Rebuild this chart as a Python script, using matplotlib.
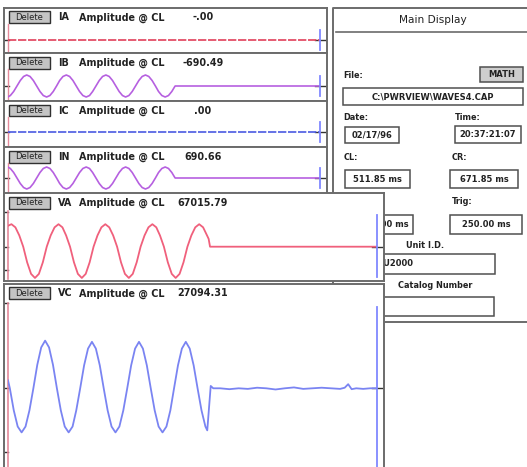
import numpy as np
import matplotlib
matplotlib.use("Agg")
import matplotlib.pyplot as plt
from matplotlib.patches import Rectangle

W, H = 527, 467
plt.rcParams.update({"font.family": "DejaVu Sans", "font.size": 6.9})

EDGE = "#6b6b6b"
CL_PINK = "#e58a9b"
CUR_BLUE = "#8088ff"

# cursor times (ms)
T_CL, T_CR = 511.85, 671.85

# header: channel name, amplitude at CL
CHANNELS = ["IA", "IB", "IC", "IN", "VA", "VC"]
AMP_AT_CL = ["-.00", "-690.49", ".00", "690.66", "67015.79", "27094.31"]

# waveforms: time after CL (ms), currents in A, voltages in kV
ia_t = [0.0, 160.0]
ia_v = [0.0, 0.0]
ic_t = [0.0, 160.0]
ic_v = [0.0, 0.0]

ib_t = [0.0, 1.2, 2.9, 4.6, 6.3, 8.0, 9.6, 11.3, 13.0, 14.7, 16.4, 18.1,
        19.8, 21.5, 23.2, 24.9, 26.5, 28.2, 29.9, 31.6, 33.3, 35.0, 36.7, 38.4,
        40.1, 41.8, 43.4, 45.1, 46.8, 48.5, 50.2, 51.9, 53.6, 55.3, 57.0, 58.7,
        60.3, 62.0, 63.7, 65.4, 67.1, 68.8, 70.5, 72.2, 73.9, 75.6, 77.2, 78.9,
        80.6, 82.3, 84.0, 85.7, 110.0, 160.0]
ib_v = [-690, -606, -350, 0, 350, 606, 700, 606, 350, 0, -350, -606,
        -700, -606, -350, 0, 350, 606, 700, 606, 350, 0, -350, -606,
        -700, -606, -350, 0, 350, 606, 700, 606, 350, 0, -350, -606,
        -700, -606, -350, 0, 350, 606, 700, 606, 350, 0, -350, -606,
        -700, -606, -350, 0, 0, 0]
in_t = ib_t
in_v = [691, 606, 350, 0, -350, -606, -700, -606, -350, 0, 350, 606,
        700, 606, 350, 0, -350, -606, -700, -606, -350, 0, 350, 606,
        700, 606, 350, 0, -350, -606, -700, -606, -350, 0, 350, 606,
        700, 606, 350, 0, -350, -606, -700, -606, -350, 0, 350, 606,
        700, 606, 350, 0, 0, 0]

va_t = [0.0, 1.5, 3.2, 4.9, 6.6, 8.3, 10.0, 11.7, 13.4, 15.1, 16.8, 18.5, 20.2,
        21.9, 23.6, 25.2, 26.9, 28.6, 30.3, 32.0, 33.7, 35.4, 37.1, 38.8, 40.5,
        42.2, 43.9, 45.6, 47.3, 49.0, 50.7, 52.4, 54.1, 55.8, 57.5, 59.2, 60.9,
        62.6, 64.3, 65.9, 67.6, 69.3, 71.0, 72.7, 74.4, 76.1, 77.8, 79.5, 81.2,
        82.9, 84.6, 86.3, 87.0, 87.6, 110.0, 160.0]
va_v = [67, 72, 62, 36, 0, -50, -87, -100, -87, -50, 0, 36, 62,
        72, 62, 36, 0, -50, -87, -100, -87, -50, 0, 36, 62,
        72, 62, 36, 0, -50, -87, -100, -87, -50, 0, 36, 62,
        72, 62, 36, 0, -50, -87, -100, -87, -50, 0, 36, 62,
        72, 62, 36, 25, 0, 0, 0]

vc_t = [0.0, 0.8, 2.5, 4.2, 5.9, 7.6, 9.3, 11.0, 12.7, 14.4, 16.1, 17.8, 19.5,
        21.2, 22.9, 24.6, 26.3, 28.0, 29.6, 31.3, 33.0, 34.7, 36.4, 38.1, 39.8,
        41.5, 43.2, 44.9, 46.6, 48.3, 50.0, 51.7, 53.4, 55.1, 56.8, 58.5, 60.2,
        61.9, 63.6, 65.3, 67.0, 68.7, 70.4, 72.0, 73.7, 75.4, 77.1, 78.8, 80.5,
        82.2, 83.9, 85.6, 86.4, 87.9, 89.0, 92, 96, 100, 104, 108, 112, 116,
        120, 124, 128, 132, 136, 140, 144, 146, 147.5, 149, 151, 154, 157, 160]
vc_v = [27, 0, -75, -130, -150, -130, -75, 0, 80, 139, 162, 139, 80,
        0, -75, -130, -150, -130, -75, 0, 78, 135, 158, 135, 78,
        0, -75, -130, -150, -130, -75, 0, 78, 135, 158, 135, 78,
        0, -75, -130, -150, -130, -75, 0, 78, 135, 158, 135, 78,
        0, -75, -130, -143, 8, 0, 0, -3, 0, -2, 2, 0, -4,
        0, 3, -2, 0, 2, 0, -2, 2, 14, -3, 0, -2, 0, 0]

# main display fields
FILE_NAME = r"C:\PWRVIEW\WAVES4.CAP"
DATE, TIME = "02/17/96", "20:37:21:07"
CL_TXT, CR_TXT, DELTA_TXT, TRIG_TXT = "511.85 ms", "671.85 ms", "160.00 ms", "250.00 ms"
UNIT_ID = "PU2000"

fig = plt.figure(figsize=(W / 100, H / 100), dpi=100)
fig.patch.set_facecolor("white")


def px_axes(x0, y0, x1, y1, z):
    ax = fig.add_axes([x0 / W, 1 - y1 / H, (x1 - x0) / W, (y1 - y0) / H])
    ax.set_zorder(z)
    return ax


def frame(x0, y0, x1, y1, z):
    ax = px_axes(x0, y0, x1, y1, z)
    ax.set_xlim(x0, x1)
    ax.set_ylim(y1, y0)
    ax.set_xticks([])
    ax.set_yticks([])
    for s in ax.spines.values():
        s.set_color(EDGE)
        s.set_linewidth(1.4)
    return ax


def header(ax, x0, y0, name, val):
    ax.add_patch(Rectangle((x0 + 5, y0 + 3.5), 41, 12, fc="#c4c4c4", ec="#303030", lw=1.0))
    ax.text(x0 + 25.5, y0 + 9.5, "Delete", ha="center", va="center", fontsize=6.0,
            color="#222")
    ax.text(x0 + 54, y0 + 9.5, name, va="center", fontweight="bold", color="#222")
    ax.text(x0 + 75, y0 + 9.5, "Amplitude @ CL", va="center", fontweight="bold", color="#222")
    ax.text(x0 + 199, y0 + 9.5, val, ha="center", va="center", fontweight="bold", color="#222")


def wave(x1, y0, y1, center, upp, z):
    ax = px_axes(8, y0, x1, y1, z)
    ax.set_xlim(T_CL, T_CR)
    ax.set_ylim(-(y1 - center) * upp, (center - y0) * upp)
    ax.axis("off")
    ax.patch.set_alpha(0)
    return ax


# ---------------- background + main display panel ----------------
bg = px_axes(0, 0, W, H, 0)
bg.set_xlim(0, W)
bg.set_ylim(H, 0)
bg.axis("off")

bg.plot([333, 333, W], [322, 8, 8], color=EDGE, lw=1.4)
bg.plot([333, W], [322, 322], color=EDGE, lw=1.4)
bg.plot([336, W], [32, 32], color=EDGE, lw=1.2)
bg.text(433, 20, "Main Display", ha="center", va="center", fontsize=7.6, color="#222")


def box(x0, y0, x1, y1, txt=None, tx=None, ha="center", fc="white"):
    bg.add_patch(Rectangle((x0, y0), x1 - x0, y1 - y0, fc=fc, ec="#505050", lw=1.1))
    if txt:
        bg.text((x0 + x1) / 2 if tx is None else tx, (y0 + y1) / 2, txt, ha=ha,
                va="center", fontsize=6.0, color="#222", fontweight="bold")


def label(x, y, txt, ha="left"):
    bg.text(x, y, txt, ha=ha, va="center", fontsize=5.9, fontweight="bold", color="#222")


label(343, 75, "File:")
box(480, 67, 523, 82, "MATH", fc="#cdcdcd")
box(343, 88, 523, 105, FILE_NAME)
label(343, 117, "Date:")
label(455, 117, "Time:")
box(345, 127, 399, 143, DATE)
box(455, 126, 521, 143, TIME)
label(344, 157, "CL:")
label(452, 157, "CR:")
box(345, 170, 410, 188, CL_TXT)
box(450, 170, 518, 188, CR_TXT)
label(452, 202, "Trig:")
box(345, 215, 413, 234, DELTA_TXT, tx=384)
box(450, 215, 522, 234, TRIG_TXT)
label(425, 245, "Unit I.D.", ha="center")
box(340, 254, 495, 274, UNIT_ID, tx=377, ha="left")
label(435, 285, "Catalog Number", ha="center")
box(340, 297, 494, 316)

# ---------------- channel panels ----------------
small = [  # top, bottom, centre line, units per px
    (8, 53, 40, 63.6),
    (53, 101, 86, 63.6),
    (101, 147, 132, 63.6),
    (147, 196, 178, 63.6),
]
series = [(ia_t, ia_v, "#e2405a", (0, (5, 1))),
          (ib_t, ib_v, "#b660e0", "-"),
          (ic_t, ic_v, "#4a5ae2", (0, (5, 1))),
          (in_t, in_v, "#b660e0", "-")]

z = 1
for i, ((top, bot, cen, upp), (t, v, col, ls)) in enumerate(zip(small, series)):
    fr = frame(4, top, 327, bot, z)
    header(fr, 4, top, CHANNELS[i], AMP_AT_CL[i])
    fr.plot([4, 9], [cen, cen], color="#333", lw=1.0)
    fr.plot([315, 326], [cen, cen], color="#333", lw=1.0)
    ax = wave(320, top + 16, bot - 1, cen, upp, z + 1)
    ax.axvline(T_CL, color=CL_PINK, lw=1.0, clip_on=False)
    ax.plot(T_CL + np.array(t), v, color=col, lw=1.2, ls=ls)
    fr_h = bot - 1 - (top + 16)
    ax.axvline(T_CR, ymin=(bot - 1 - cen - 10) / fr_h, ymax=(bot - 1 - cen + 10) / fr_h,
               color=CUR_BLUE, lw=1.3, clip_on=False)
    z += 2

big = [  # top, bottom, plot top, plot bottom, centre, units per px, left ticks, cursor span
    (193, 281, 211, 279, 246.7, 3.2, [212, 247, 270], (215, 277)),
    (284, 475, 303, 467, 388.3, 3.4, [303, 388, 452], (307, 467)),
]
for j, ((top, bot, pt, pb, cen, upp, ticks, cspan), (t, v, col)) in enumerate(
        zip(big, [(va_t, va_v, "#f0607c"), (vc_t, vc_v, "#7a84f2")])):
    fr = frame(4, top, 384, bot, z)
    header(fr, 4, top, CHANNELS[4 + j], AMP_AT_CL[4 + j])
    for ty in ticks:
        fr.plot([4, 8], [ty, ty], color="#333", lw=1.0)
    fr.plot([372, 383], [cen, cen], color="#333", lw=1.0)
    ax = wave(377, pt, pb, cen, upp, z + 1)
    ax.axvline(T_CL, ymin=0.0, ymax=1.0, color=CL_PINK, lw=1.2, clip_on=False)
    ax.plot(T_CL + np.array(t), v, color=col, lw=1.3)
    h = pb - pt
    ax.axvline(T_CR, ymin=(pb - cspan[1]) / h, ymax=(pb - cspan[0]) / h,
               color=CUR_BLUE, lw=1.3, clip_on=False)
    z += 2

fig.savefig("out.png", dpi=100)
